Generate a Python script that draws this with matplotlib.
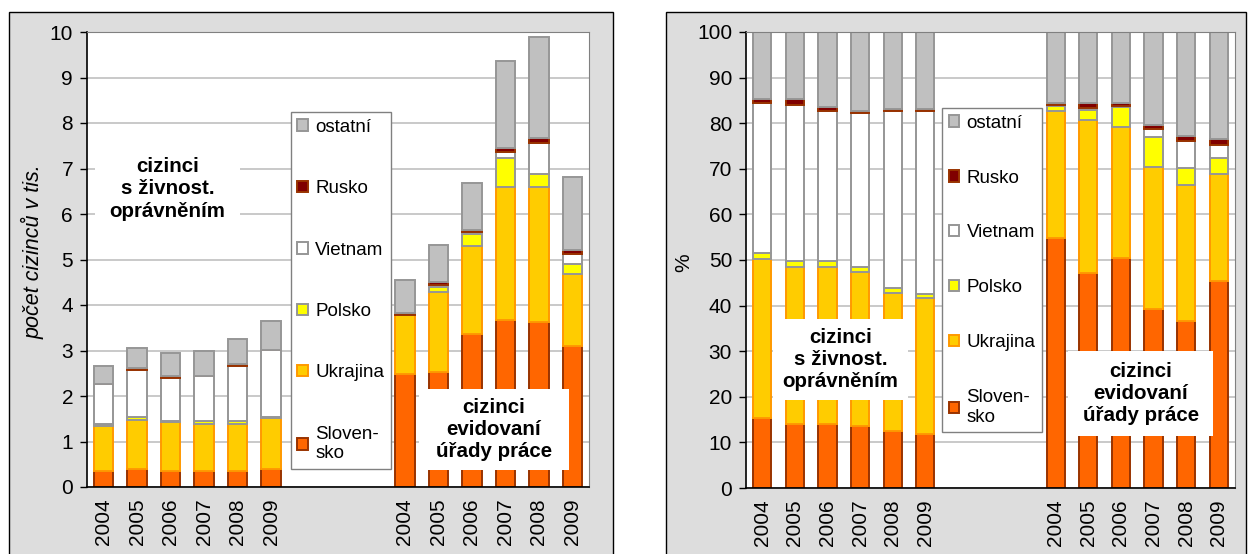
import numpy as np
import matplotlib.pyplot as plt
from matplotlib.patches import Rectangle, Patch

plt.rcParams["font.family"] = ["Liberation Sans", "DejaVu Sans"]

# ===== DATA =====

years = ["2004", "2005", "2006", "2007", "2008", "2009"]
series = ["Slovensko", "Ukrajina", "Polsko", "Vietnam", "Rusko", "ostatní"]
legend_labels = ["Sloven-\nsko", "Ukrajina", "Polsko", "Vietnam", "Rusko", "ostatní"]

# left chart, thousands of people: trades licence holders (g1), registered at labour offices (g2)
abs_g1 = {
    "Slovensko": [0.36, 0.40, 0.36, 0.36, 0.36, 0.40],
    "Ukrajina": [0.98, 1.07, 1.06, 1.02, 1.02, 1.11],
    "Polsko": [0.05, 0.06, 0.04, 0.06, 0.06, 0.03],
    "Vietnam": [0.87, 1.04, 0.94, 1.00, 1.23, 1.47],
    "Rusko": [0.01, 0.05, 0.03, 0.01, 0.03, 0.01],
    "ostatní": [0.40, 0.44, 0.51, 0.54, 0.55, 0.62],
}
abs_g2 = {
    "Slovensko": [2.48, 2.52, 3.36, 3.67, 3.63, 3.10],
    "Ukrajina": [1.29, 1.77, 1.94, 2.92, 2.96, 1.58],
    "Polsko": [0.01, 0.11, 0.25, 0.65, 0.30, 0.22],
    "Vietnam": [0.01, 0.03, 0.05, 0.13, 0.66, 0.22],
    "Rusko": [0.04, 0.08, 0.05, 0.09, 0.13, 0.09],
    "ostatní": [0.73, 0.81, 1.04, 1.91, 2.22, 1.60],
}

# right chart, percent
pct_g1 = {
    "Slovensko": [15.3, 14.0, 14.0, 13.5, 12.6, 11.8],
    "Ukrajina": [34.9, 34.5, 34.5, 33.8, 30.2, 29.8],
    "Polsko": [1.3, 1.3, 1.3, 1.2, 1.0, 0.9],
    "Vietnam": [33.0, 34.2, 32.9, 33.7, 38.9, 40.2],
    "Rusko": [0.8, 1.2, 0.8, 0.5, 0.4, 0.4],
    "ostatní": [14.7, 14.8, 16.5, 17.3, 16.9, 16.9],
}
pct_g2 = {
    "Slovensko": [54.8, 47.2, 50.4, 39.3, 36.7, 45.5],
    "Ukrajina": [27.9, 33.4, 28.8, 31.2, 29.7, 23.3],
    "Polsko": [1.1, 2.4, 4.4, 6.5, 3.7, 3.5],
    "Vietnam": [0.3, 0.3, 0.2, 1.7, 6.1, 2.9],
    "Rusko": [0.4, 1.1, 0.6, 0.8, 1.1, 1.3],
    "ostatní": [15.5, 15.6, 15.6, 20.5, 22.7, 23.5],
}

# ===== STYLE =====

face = {
    "Slovensko": "#FF6600",
    "Ukrajina": "#FFCC00",
    "Polsko": "#FFFF00",
    "Vietnam": "#FFFFFF",
    "Rusko": "#800000",
    "ostatní": "#C0C0C0",
}
edge = {
    "Slovensko": "#993300",
    "Ukrajina": "#FF9900",
    "Polsko": "#969696",
    "Vietnam": "#969696",
    "Rusko": "#993300",
    "ostatní": "#969696",
}

W, H = 1248, 554
fig = plt.figure(figsize=(W / 100, H / 100), dpi=100)


def px_rect(x0, y0, x1, y1):
    # pixel box (top-left origin) -> figure fraction rect
    return [x0 / W, 1 - y1 / H, (x1 - x0) / W, (y1 - y0) / H]


# gray chart panels
for x0, x1 in [(9, 613), (666, 1246)]:
    r = px_rect(x0, 12, x1, 560)
    fig.patches.append(
        Rectangle((r[0], r[1]), r[2], r[3], transform=fig.transFigure,
                  facecolor="#DDDDDD", edgecolor="black", lw=1, zorder=-10)
    )

ax1 = fig.add_axes(px_rect(87, 32, 589, 487))
ax2 = fig.add_axes(px_rect(746, 32, 1235, 488))

slots_g1 = np.arange(6)
slots_g2 = np.arange(9, 15)


def draw(ax, g1, g2, width):
    for slots, data in [(slots_g1, g1), (slots_g2, g2)]:
        bottom = np.zeros(len(years))
        for s in series:
            vals = np.array(data[s])
            ax.bar(slots, vals, bottom=bottom, width=width, color=face[s],
                   edgecolor=edge[s], linewidth=1.4, zorder=2)
            bottom += vals
    ax.set_xlim(-0.5, 14.5)
    ax.set_xticks(np.concatenate([slots_g1, slots_g2]))
    ax.set_xticklabels(years + years, rotation=90, fontsize=15)
    ax.tick_params(axis="x", length=0, pad=8)
    ax.tick_params(axis="y", length=5, width=1, labelsize=15, pad=5, direction="out")
    ax.yaxis.grid(True, color="#C0C0C0", lw=1.2)
    ax.set_axisbelow(True)
    for sp in ["top", "right"]:
        ax.spines[sp].set_color("#808080")
    for sp in ["left", "bottom"]:
        ax.spines[sp].set_color("black")
        ax.spines[sp].set_linewidth(1.2)


draw(ax1, abs_g1, abs_g2, 0.58)
draw(ax2, pct_g1, pct_g2, 0.56)
ax1.set_ylim(0, 10)
ax1.set_yticks(range(0, 11))
ax2.set_ylim(0, 100)
ax2.set_yticks(range(0, 101, 10))


def label_box(ax, x0, x1, y0, y1, txt):
    ax.add_patch(Rectangle((x0, y0), x1 - x0, y1 - y0, facecolor="white",
                           edgecolor="none", zorder=3))
    ax.text((x0 + x1) / 2, (y0 + y1) / 2, txt, ha="center", va="center",
            fontsize=14.8, fontweight="bold", linespacing=1.22, zorder=4)


txt_a = "cizinci\ns živnost.\noprávněním"
txt_b = "cizinci\nevidovaní\núřady práce"
label_box(ax1, -0.26, 4.07, 5.5, 7.6, txt_a)
label_box(ax1, 9.42, 13.9, 0.37, 2.15, txt_b)
label_box(ax2, 0.33, 4.47, 19.3, 37.1, txt_a)
label_box(ax2, 9.38, 13.83, 11.4, 30.0, txt_b)

handles = [Patch(facecolor=face[s], edgecolor=edge[s], lw=1.4) for s in series][::-1]
labels = legend_labels[::-1]
for ax, anchor, spacing in [(ax1, (0.406, 0.824), 2.37), (ax2, (0.401, 0.833), 2.02)]:
    leg = ax.legend(handles, labels, loc="upper left", bbox_to_anchor=anchor,
                    borderaxespad=0, fontsize=13.5, handlelength=0.55,
                    handleheight=0.55, handletextpad=0.4, labelspacing=spacing,
                    fancybox=False, framealpha=1, borderpad=0.35)
    leg.get_frame().set_edgecolor("#808080")
    leg.set_zorder(5)

fig.text(33 / W, 1 - 252 / H, "počet cizinců v tis.", rotation=90, ha="center",
         va="center", fontsize=15.5, fontstyle="italic")
fig.text(684 / W, 1 - 263 / H, "%", rotation=90, ha="center", va="center",
         fontsize=15)

fig.savefig("out.png", dpi=100)
